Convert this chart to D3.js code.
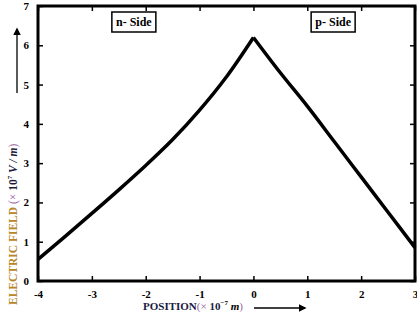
<!DOCTYPE html>
<html>
<head>
<meta charset="utf-8">
<script src="https://cdn.jsdelivr.net/npm/d3@7"></script>
<style>
body { margin: 0; background: #fff; }
svg { display: block; font-family: 'Liberation Serif', serif; }
.tick text { font-weight: bold; font-size: 11px; font-family: 'Liberation Serif', serif; }
</style>
</head>
<body>
<svg width="417" height="322"></svg>
<script>
// n-side and p-side field profile (x in 1e-7 m, E in 1e7 V/m)
var nPos = [-4, -3.5, -3, -2.5, -2, -1.5, -1, -0.5, 0]
var nField = [0.55, 1.13, 1.72, 2.32, 2.94, 3.6, 4.35, 5.2, 6.2]
var pPos = [0, 0.5, 1, 1.5, 2, 2.5, 3]
var pField = [6.2, 5.3, 4.45, 3.55, 2.65, 1.75, 0.85]
var xTicks = [-4, -3, -2, -1, 0, 1, 2, 3]
var yTicks = [0, 1, 2, 3, 4, 5, 6, 7]

var margin = {top: 6, right: 2, bottom: 41, left: 38}
var width = 417 - margin.left - margin.right
var height = 322 - margin.top - margin.bottom

var x = d3.scaleLinear().domain([-4, 3]).range([0, width])
var y = d3.scaleLinear().domain([0, 7]).range([height, 0])

var svg = d3.select('svg')
var defs = svg.append('defs')
defs.append('marker')
  .attr('id', 'head')
  .attr('viewBox', '0 0 10 10')
  .attr('refX', 8).attr('refY', 5)
  .attr('markerWidth', 6).attr('markerHeight', 6)
  .attr('orient', 'auto')
  .append('path').attr('d', 'M0,0L10,5L0,10z').attr('fill', '#000')

var g = svg.append('g')
  .attr('transform', 'translate(' + margin.left + ',' + margin.top + ')')

function styleAxis(sel) {
  sel.attr('font-family', null).attr('font-size', null)
  sel.select('.domain').remove()
  sel.selectAll('.tick line').attr('stroke', '#000').attr('stroke-width', 1.5)
}

var fmt = function (d) { return String(d) }

g.append('g')
  .attr('transform', 'translate(0,' + height + ')')
  .call(d3.axisBottom(x).tickValues(xTicks).tickSizeInner(-5).tickPadding(9).tickFormat(fmt))
  .call(styleAxis)
g.append('g')
  .call(d3.axisLeft(y).tickValues(yTicks).tickSizeInner(-5).tickPadding(9).tickFormat(fmt))
  .call(styleAxis)
g.append('g')
  .call(d3.axisTop(x).tickValues(xTicks).tickSizeInner(-5).tickFormat(''))
  .call(styleAxis)
g.append('g')
  .attr('transform', 'translate(' + width + ',0)')
  .call(d3.axisRight(y).tickValues(yTicks).tickSizeInner(-5).tickFormat(''))
  .call(styleAxis)

g.selectAll('.tick text').attr('fill', '#000')

g.append('rect')
  .attr('width', width).attr('height', height)
  .attr('fill', 'none').attr('stroke', '#000').attr('stroke-width', 3)

var line = d3.line()
  .x(function (d) { return x(d[0]) })
  .y(function (d) { return y(d[1]) })
  .curve(d3.curveCatmullRom)

var nData = nPos.map(function (p, i) { return [p, nField[i]] })
var pData = pPos.map(function (p, i) { return [p, pField[i]] })

;[nData, pData].forEach(function (data) {
  g.append('path')
    .datum(data)
    .attr('fill', 'none')
    .attr('stroke', '#000')
    .attr('stroke-width', 3.5)
    .attr('stroke-linejoin', 'round')
    .attr('d', line)
})

// side labels
function sideBox(cx, label) {
  var b = g.append('g').attr('transform', 'translate(' + cx + ',16)')
  b.append('rect').attr('x', -22).attr('y', -10).attr('width', 44).attr('height', 20)
    .attr('fill', '#fff').attr('stroke', '#000').attr('stroke-width', 1.5)
  b.append('text').attr('text-anchor', 'middle').attr('dy', '0.35em')
    .attr('font-weight', 'bold').attr('font-size', 12).text(label)
}
sideBox(x(-2.22), 'n- Side')
sideBox(x(1.48), 'p- Side')

// x label
var xl = svg.append('text')
  .attr('x', 143).attr('y', 310)
  .attr('font-size', 11)
xl.append('tspan').attr('font-weight', 'bold').attr('fill', '#1a1a40').text('POSITION')
xl.append('tspan').attr('fill', '#9a5fa0').text('(× ')
xl.append('tspan').attr('font-weight', 'bold').attr('fill', '#1a1a40').text('10')
xl.append('tspan').attr('font-size', 7).attr('dy', -5).attr('font-weight', 'bold').text('−7')
xl.append('tspan').attr('dy', 5).attr('font-style', 'italic').attr('font-weight', 'bold').text('  m')
xl.append('tspan').attr('fill', '#9a5fa0').text(')')
svg.append('line')
  .attr('x1', 254).attr('y1', 308).attr('x2', 305).attr('y2', 308)
  .attr('stroke', '#000').attr('stroke-width', 1.3)
  .attr('marker-end', 'url(#head)')

// y label
var yl = svg.append('text')
  .attr('transform', 'translate(17,305) rotate(-90)')
  .attr('font-size', 11.5)
yl.append('tspan').attr('font-weight', 'bold').attr('fill', '#b8862a').text('ELECTRIC FIELD ')
yl.append('tspan').attr('fill', '#9a5fa0').text('(× ')
yl.append('tspan').attr('font-weight', 'bold').attr('fill', '#1a1a40').text('10')
yl.append('tspan').attr('font-size', 7).attr('dy', -5).attr('font-weight', 'bold').text('7')
yl.append('tspan').attr('dy', 5).attr('font-style', 'italic').attr('font-weight', 'bold').attr('fill', '#1a1a40').text(' V / ')
yl.append('tspan').attr('font-style', 'italic').attr('font-weight', 'bold').attr('fill', '#1a1a40').text('m')
yl.append('tspan').attr('fill', '#9a5fa0').text(')')
svg.append('line')
  .attr('x1', 17).attr('y1', 93).attr('x2', 17).attr('y2', 29)
  .attr('stroke', '#000').attr('stroke-width', 1.3)
  .attr('marker-end', 'url(#head)')
</script>
</body>
</html>
